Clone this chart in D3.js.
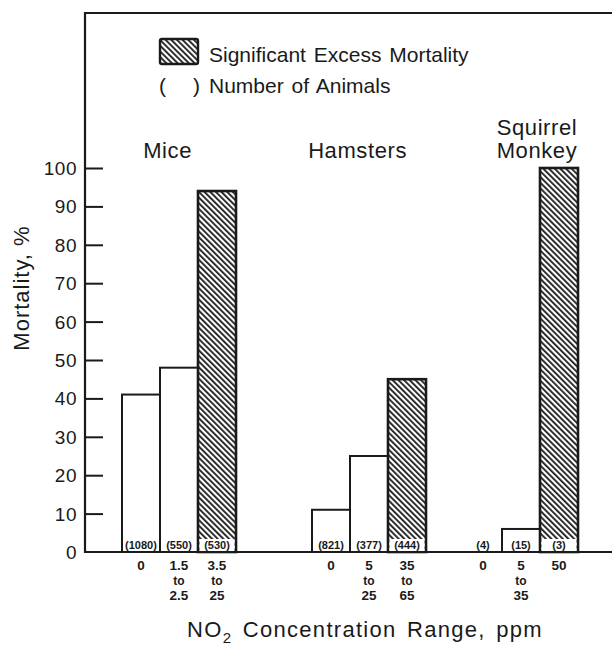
<!DOCTYPE html>
<html>
<head>
<meta charset="utf-8">
<script src="https://cdn.jsdelivr.net/npm/d3@7"></script>
<style>
  body { margin: 0; background: #fff; }
  text { font-family: "Liberation Sans", Arial, sans-serif; fill: #1a1a1a; }
</style>
</head>
<body>
<div id="chart"></div>
<script>
// values
var animals = ["Mice", "Hamsters", "Squirrel Monkey"];
var animalOf = [0, 0, 0, 1, 1, 1, 2, 2, 2];
var concRange = [["0"], ["1.5", "to", "2.5"], ["3.5", "to", "25"],
                 ["0"], ["5", "to", "25"], ["35", "to", "65"],
                 ["0"], ["5", "to", "35"], ["50"]];
var mortality = [41, 48, 94, 11, 25, 45, 0, 6, 100];
var nAnimals = ["(1080)", "(550)", "(530)", "(821)", "(377)", "(444)", "(4)", "(15)", "(3)"];
var significant = [false, false, true, false, false, true, false, false, true];
var yTicks = [0, 10, 20, 30, 40, 50, 60, 70, 80, 90, 100];

// layout
var width = 612, height = 647;
var frameX = 85, frameTop = 13;
var groupStart = [0, 5, 9];   // slot where each animal group begins
var ink = "#1a1a1a";

var svg = d3.select("#chart").append("svg")
  .attr("width", width)
  .attr("height", height);

var defs = svg.append("defs");
defs.append("pattern")
  .attr("id", "hatch")
  .attr("patternUnits", "userSpaceOnUse")
  .attr("width", 4)
  .attr("height", 4)
  .attr("patternTransform", "rotate(-45)")
  .append("rect")
  .attr("width", 1.8)
  .attr("height", 4)
  .attr("fill", ink);

var x = d3.scaleBand()
  .domain(d3.range(12))
  .range([122, 578])
  .padding(0);

var y = d3.scaleLinear()
  .domain([0, 100])
  .range([552, 168]);

var bars = mortality.map(function(v, i) {
  var g = animalOf[i];
  var firstOfGroup = animalOf.indexOf(g);
  return {
    value: v,
    slot: groupStart[g] + (i - firstOfGroup),
    sig: significant[i],
    n: nAnimals[i],
    range: concRange[i]
  };
});

// frame
svg.append("path")
  .attr("d", "M" + width + "," + frameTop + "H" + frameX + "V" + y(0) + "H" + width)
  .attr("fill", "none")
  .attr("stroke", ink)
  .attr("stroke-width", 2.2);

// y ticks (drawn inward)
var yAxis = d3.axisRight(y)
  .tickValues(yTicks.slice(1))
  .tickSize(18)
  .tickFormat("");
svg.append("g")
  .attr("transform", "translate(" + frameX + ",0)")
  .call(yAxis)
  .call(function(g) { g.select(".domain").remove(); })
  .selectAll("line")
  .attr("stroke", ink)
  .attr("stroke-width", 2);

svg.append("g").selectAll("text")
  .data(yTicks)
  .enter().append("text")
  .attr("x", 77)
  .attr("y", function(d) { return y(d) + 7; })
  .attr("text-anchor", "end")
  .style("font-size", "19px")
  .style("letter-spacing", "0.5px")
  .text(function(d) { return d; });

svg.append("text")
  .attr("transform", "translate(29,288) rotate(-90)")
  .attr("text-anchor", "middle")
  .style("font-size", "22px")
  .style("letter-spacing", "1px")
  .text("Mortality, %");

// bars
var bar = svg.append("g").selectAll("g")
  .data(bars)
  .enter().append("g");

bar.filter(function(d) { return d.value > 0; })
  .append("rect")
  .attr("x", function(d) { return x(d.slot); })
  .attr("y", function(d) { return y(d.value); })
  .attr("width", x.bandwidth())
  .attr("height", function(d) { return y(0) - y(d.value); })
  .attr("fill", function(d) { return d.sig ? "url(#hatch)" : "#fff"; })
  .attr("stroke", ink)
  .attr("stroke-width", function(d) { return d.sig ? 2.6 : 2; });

// white strip at the foot of hatched bars for the counts
bar.filter(function(d) { return d.sig; })
  .append("rect")
  .attr("x", function(d) { return x(d.slot) + 1.5; })
  .attr("y", y(0) - 13)
  .attr("width", x.bandwidth() - 3)
  .attr("height", 12)
  .attr("fill", "#fff");

bar.append("text")
  .attr("x", function(d) { return x(d.slot) + x.bandwidth() / 2; })
  .attr("y", y(0) - 3)
  .attr("text-anchor", "middle")
  .style("font-size", "11px")
  .style("font-weight", "bold")
  .each(function(d) {
    var t = d3.select(this).text(d.n);
    if (this.getComputedTextLength() > x.bandwidth() - 3) {
      t.attr("textLength", x.bandwidth() - 3).attr("lengthAdjust", "spacingAndGlyphs");
    }
  });

// concentration labels under the axis, one text per line
bar.each(function(d) {
  var g = d3.select(this);
  var cx = x(d.slot) + x.bandwidth() / 2;
  d.range.forEach(function(s, k) {
    g.append("text")
      .attr("x", cx)
      .attr("y", 570 + k * 15)
      .attr("text-anchor", "middle")
      .style("font-weight", "bold")
      .style("font-size", s === "to" ? "12px" : "13.5px")
      .text(s);
  });
});

// group names
svg.append("g").selectAll("text")
  .data(animals)
  .enter().append("text")
  .attr("text-anchor", "middle")
  .style("font-size", "22px")
  .style("letter-spacing", "0.6px")
  .each(function(d, i) {
    var cx = x(groupStart[i]) + x.bandwidth() * 1.2;
    if (i === 2) cx = x(groupStart[i] + 2) - 3;
    var words = i === 2 ? d.split(" ") : [d];
    var t = d3.select(this);
    words.forEach(function(w, k) {
      t.append("tspan")
        .attr("x", cx)
        .attr("y", 158 - (words.length - 1 - k) * 23)
        .text(w);
    });
  });

// legend
var legend = svg.append("g");
legend.append("rect")
  .attr("x", 160)
  .attr("y", 39)
  .attr("width", 38)
  .attr("height", 25)
  .attr("rx", 2)
  .attr("fill", "url(#hatch)")
  .attr("stroke", ink)
  .attr("stroke-width", 2.4);
legend.append("text")
  .attr("x", 209)
  .attr("y", 62)
  .style("font-size", "21px")
  .style("word-spacing", "2px")
  .text("Significant Excess Mortality");
legend.append("text")
  .attr("x", 159)
  .attr("y", 93)
  .style("font-size", "21px")
  .text("(");
legend.append("text")
  .attr("x", 193)
  .attr("y", 93)
  .style("font-size", "21px")
  .text(")");
legend.append("text")
  .attr("x", 209)
  .attr("y", 93)
  .style("font-size", "21px")
  .style("word-spacing", "2px")
  .text("Number of Animals");

// x title
var xt = svg.append("text")
  .attr("x", 365)
  .attr("y", 637)
  .attr("text-anchor", "middle")
  .style("font-size", "22px")
  .style("letter-spacing", "1.3px");
xt.append("tspan").text("NO");
xt.append("tspan").attr("dy", 6).style("font-size", "15px").text("2");
xt.append("tspan").attr("dy", -6).style("word-spacing", "3px").text(" Concentration Range, ppm");
</script>
</body>
</html>
